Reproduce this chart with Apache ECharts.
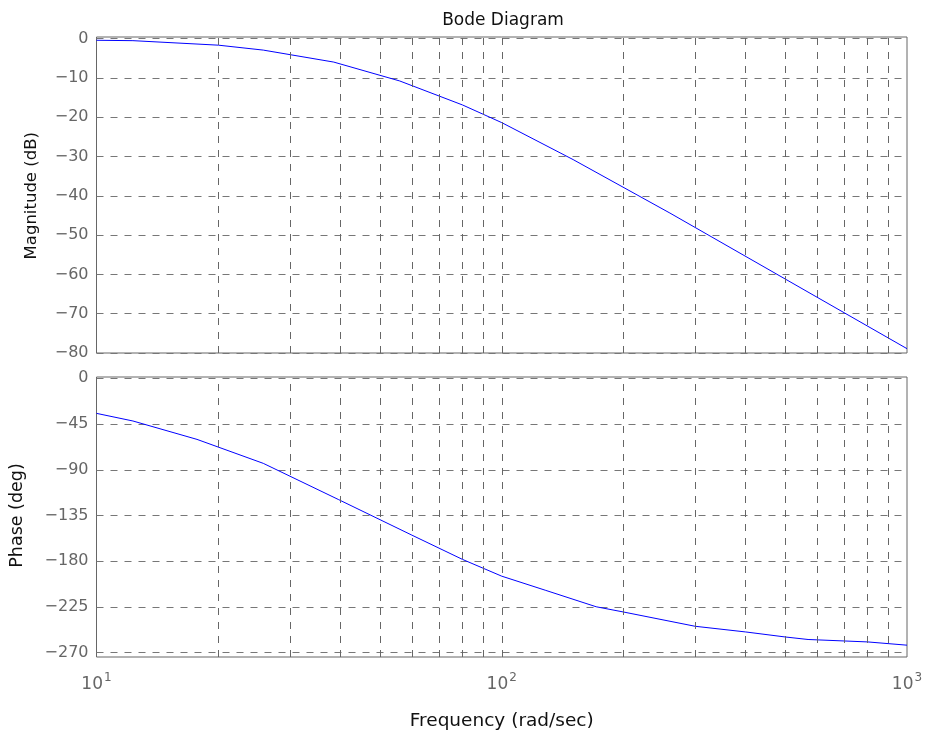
<!DOCTYPE html>
<html><head><meta charset="utf-8">
<script src="https://cdn.jsdelivr.net/npm/echarts@6/dist/echarts.min.js"></script>
<style>html,body{margin:0;padding:0;background:#fff}#c{width:927px;height:736px}</style>
</head><body><div id="c"></div><script>
// ---- data ----
const magFreq = [10, 12.3, 20, 25.8, 38.5, 56, 80, 100, 150, 260, 1000];
const magDb = [-0.45, -0.55, -1.7, -2.95, -6.0, -10.8, -16.9, -21.4, -30.8, -44.4, -78.9];
const phaseFreq = [10, 12.3, 17.7, 25.8, 39.5, 60, 80, 100, 128, 171, 200, 300, 400, 500, 570, 800, 1000];
const phaseDeg = [-34.5, -42, -60.1, -83.7, -119.2, -154.3, -178.2, -194.7, -208.5, -224.8, -230, -244, -249.6, -254.5, -257, -259.4, -262.6];
const gridFreqs = [20, 30, 40, 50, 60, 70, 80, 90, 100, 200, 300, 400, 500, 600, 700, 800, 900];
const freqRange = [10, 1000];
const magRange = [-80, 0, 10];
const phaseRange = [-270, 0, 45];
const titleText = 'Bode Diagram';
const magName = 'Magnitude (dB)';
const phaseName = 'Phase (deg)';
const freqName = 'Frequency (rad/sec)';

const FONT = '"DejaVu Sans", sans-serif';
const L = 96.5, R = 20;
const dash = [7, 7];
const fmtY = v => String(v).replace('-', '\u2212');

const chart = echarts.init(document.getElementById('c'), null, {renderer: 'canvas'});

function outerX(idx, showLabels) {
  return {
    type: 'log', logBase: 10, gridIndex: idx, min: freqRange[0], max: freqRange[1],
    axisLine: {show: false}, axisTick: {show: false}, splitLine: {show: false},
    axisLabel: showLabels ? {
      show: true, margin: 15, color: '#666', fontFamily: FONT,
      formatter: v => '{b|10}{s|' + Math.round(Math.log10(v)) + '}',
      rich: {b: {fontSize: 17, color: '#666', fontFamily: FONT},
             s: {fontSize: 12, color: '#666', fontFamily: FONT, padding: [0, 0, 14, 1]}}
    } : {show: false},
    name: showLabels ? freqName : '', nameLocation: 'middle', nameGap: 55,
    nameTextStyle: {fontSize: 18.5, color: '#111', fontFamily: FONT}
  };
}
function innerX(idx) {
  return {type: 'log', logBase: 10, gridIndex: idx, min: freqRange[0], max: freqRange[1], show: false};
}
function innerY(idx, rng, name, gap, nsize) {
  return {
    type: 'value', gridIndex: idx, min: rng[0], max: rng[1], interval: rng[2],
    axisLine: {show: false}, axisTick: {show: false},
    axisLabel: {color: '#666', fontSize: 16, margin: 8, fontFamily: FONT, formatter: fmtY},
    splitLine: {show: true, lineStyle: {color: '#777', type: dash, width: 1}},
    name: name, nameLocation: 'middle', nameGap: gap, nameRotate: 90,
    nameTextStyle: {fontSize: nsize, color: '#111', fontFamily: FONT}
  };
}
function outerY(idx) {
  return {type: 'value', gridIndex: idx, min: 0, max: 1, show: false};
}
function gridLineSeries(xi, yi) {
  return {
    type: 'line', xAxisIndex: xi, yAxisIndex: yi, data: [[freqRange[0], 0.5]],
    showSymbol: false, lineStyle: {opacity: 0}, silent: true,
    markLine: {
      silent: true, symbol: ['none', 'none'], label: {show: false},
      lineStyle: {color: '#666', type: dash, width: 1},
      data: gridFreqs.map(f => ({xAxis: f}))
    }
  };
}

chart.setOption({
  animation: false,
  backgroundColor: '#fff',
  title: {
    text: titleText, left: 498, top: 7, textAlign: 'center',
    textStyle: {fontSize: 17, fontWeight: 'normal', color: '#111', fontFamily: FONT}
  },
  grid: [
    {left: L, right: R, top: 37, height: 316, show: true, borderColor: '#666', borderWidth: 1, backgroundColor: '#fff'},
    {left: L, right: R, top: 38.5, height: 314.5},
    {left: L, right: R, top: 377, height: 280, show: true, borderColor: '#666', borderWidth: 1, backgroundColor: '#fff'},
    {left: L, right: R, top: 378.3, height: 274.4}
  ],
  xAxis: [outerX(0, false), innerX(1), outerX(2, true), innerX(3)],
  yAxis: [outerY(0), innerY(1, magRange, magName, 56, 16.5), outerY(2), innerY(3, phaseRange, phaseName, 70, 17.5)],
  series: [
    gridLineSeries(0, 0),
    gridLineSeries(2, 2),
    {type: 'line', xAxisIndex: 1, yAxisIndex: 1, data: magFreq.map((f, i) => [f, magDb[i]]),
     showSymbol: false, lineStyle: {color: '#0000ff', width: 1}, silent: true},
    {type: 'line', xAxisIndex: 3, yAxisIndex: 3, data: phaseFreq.map((f, i) => [f, phaseDeg[i]]),
     showSymbol: false, lineStyle: {color: '#0000ff', width: 1}, silent: true}
  ]
});
</script></body></html>
